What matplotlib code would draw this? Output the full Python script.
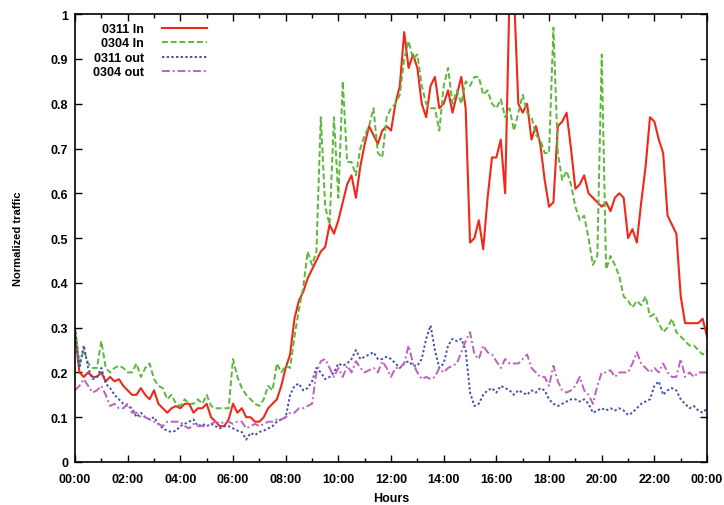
import numpy as np
import matplotlib
matplotlib.use("Agg")
import matplotlib.pyplot as plt
from matplotlib.ticker import MultipleLocator, FuncFormatter

# samples every 10 minutes, 00:00 .. 24:00
in_0311 = [
    0.29, 0.20, 0.19, 0.20, 0.19, 0.19,
    0.20, 0.18, 0.19, 0.18, 0.185, 0.17,
    0.16, 0.15, 0.15, 0.165, 0.15, 0.14,
    0.16, 0.13, 0.12, 0.11, 0.12, 0.125,
    0.12, 0.13, 0.13, 0.11, 0.12, 0.12,
    0.13, 0.10, 0.09, 0.08, 0.08, 0.095,
    0.13, 0.11, 0.12, 0.10, 0.10, 0.09,
    0.09, 0.10, 0.12, 0.13, 0.14, 0.17,
    0.21, 0.24, 0.32, 0.36, 0.38, 0.41,
    0.43, 0.45, 0.47, 0.48, 0.53, 0.51,
    0.54, 0.58, 0.62, 0.64, 0.59, 0.66,
    0.71, 0.75, 0.73, 0.71, 0.74, 0.75,
    0.74, 0.80, 0.84, 0.96, 0.88, 0.91,
    0.88, 0.80, 0.77, 0.84, 0.86, 0.79,
    0.80, 0.83, 0.78, 0.82, 0.86, 0.79,
    0.49, 0.50, 0.54, 0.475, 0.59, 0.68,
    0.68, 0.72, 0.60, 1.05, 1.05, 0.80,
    0.78, 0.80, 0.72, 0.75, 0.71, 0.63,
    0.57, 0.58, 0.75, 0.76, 0.78, 0.70,
    0.61, 0.62, 0.64, 0.60, 0.59, 0.58,
    0.57, 0.58, 0.56, 0.59, 0.60, 0.59,
    0.50, 0.52, 0.49, 0.58, 0.66, 0.77,
    0.76, 0.72, 0.69, 0.55, 0.53, 0.51,
    0.37, 0.31, 0.31, 0.31, 0.31, 0.32,
    0.28,
]
in_0304 = [
    0.30, 0.22, 0.25, 0.22, 0.21, 0.21,
    0.27, 0.21, 0.20, 0.21, 0.215, 0.21,
    0.20, 0.20, 0.22, 0.19, 0.21, 0.22,
    0.185, 0.17, 0.165, 0.14, 0.15, 0.13,
    0.125, 0.14, 0.13, 0.13, 0.14, 0.13,
    0.15, 0.125, 0.12, 0.12, 0.12, 0.12,
    0.23, 0.19, 0.165, 0.15, 0.14, 0.13,
    0.125, 0.14, 0.17, 0.16, 0.22, 0.20,
    0.215, 0.21, 0.28, 0.34, 0.39, 0.47,
    0.44, 0.47, 0.77, 0.57, 0.53, 0.77,
    0.59, 0.85, 0.67, 0.67, 0.64, 0.70,
    0.73, 0.75, 0.79, 0.69, 0.68, 0.77,
    0.79, 0.80, 0.82, 0.90, 0.94, 0.90,
    0.91, 0.84, 0.80, 0.79, 0.79, 0.74,
    0.84, 0.88, 0.80, 0.83, 0.80, 0.85,
    0.84, 0.86, 0.86, 0.82, 0.83, 0.80,
    0.79, 0.81, 0.77, 0.79, 0.74, 0.78,
    0.82, 0.78, 0.77, 0.73, 0.72, 0.69,
    0.69, 0.97, 0.69, 0.63, 0.65, 0.62,
    0.57, 0.54, 0.55, 0.50, 0.44, 0.46,
    0.91, 0.43, 0.46, 0.44, 0.415, 0.37,
    0.36, 0.345, 0.36, 0.35, 0.37, 0.325,
    0.33, 0.31, 0.29, 0.30, 0.32, 0.29,
    0.28, 0.27, 0.26, 0.26, 0.25, 0.24,
    0.25,
]
out_0311 = [
    0.30, 0.21, 0.26, 0.21, 0.185, 0.19,
    0.21, 0.175, 0.165, 0.15, 0.14, 0.13,
    0.125, 0.12, 0.10, 0.11, 0.10, 0.095,
    0.10, 0.085, 0.075, 0.07, 0.067, 0.07,
    0.08, 0.085, 0.09, 0.095, 0.08, 0.085,
    0.08, 0.085, 0.08, 0.075, 0.08, 0.08,
    0.075, 0.07, 0.067, 0.05, 0.065, 0.06,
    0.067, 0.07, 0.075, 0.08, 0.09, 0.095,
    0.10, 0.15, 0.17, 0.175, 0.16, 0.165,
    0.18, 0.21, 0.20, 0.185, 0.19, 0.20,
    0.22, 0.215, 0.22, 0.23, 0.25, 0.23,
    0.235, 0.24, 0.245, 0.23, 0.23, 0.235,
    0.23, 0.22, 0.21, 0.22, 0.225, 0.215,
    0.215, 0.23, 0.275, 0.305, 0.25, 0.21,
    0.22, 0.26, 0.275, 0.27, 0.275, 0.25,
    0.155, 0.125, 0.13, 0.15, 0.16, 0.165,
    0.155, 0.17, 0.165, 0.16, 0.15, 0.16,
    0.155, 0.15, 0.16, 0.155, 0.165, 0.16,
    0.14, 0.13, 0.125, 0.13, 0.135, 0.14,
    0.14, 0.135, 0.14, 0.13, 0.11, 0.115,
    0.12, 0.115, 0.12, 0.115, 0.12, 0.115,
    0.105, 0.11, 0.12, 0.13, 0.135, 0.14,
    0.17, 0.18, 0.15, 0.16, 0.165, 0.16,
    0.14, 0.13, 0.12, 0.125, 0.115, 0.11,
    0.12,
]
out_0304 = [
    0.16, 0.17, 0.185, 0.17, 0.155, 0.16,
    0.17, 0.15, 0.125, 0.13, 0.12, 0.12,
    0.13, 0.11, 0.11, 0.10, 0.10, 0.095,
    0.09, 0.085, 0.08, 0.09, 0.09, 0.09,
    0.09, 0.08, 0.075, 0.085, 0.08, 0.08,
    0.08, 0.085, 0.09, 0.085, 0.09, 0.09,
    0.085, 0.09, 0.09, 0.075, 0.08, 0.085,
    0.08, 0.085, 0.09, 0.09, 0.095, 0.095,
    0.10, 0.11, 0.11, 0.12, 0.12, 0.125,
    0.13, 0.20, 0.225, 0.23, 0.21, 0.19,
    0.21, 0.19, 0.215, 0.20, 0.225, 0.21,
    0.20, 0.205, 0.21, 0.20, 0.225, 0.21,
    0.19, 0.21, 0.21, 0.22, 0.26, 0.22,
    0.20, 0.185, 0.19, 0.185, 0.19, 0.21,
    0.20, 0.21, 0.215, 0.22, 0.245, 0.27,
    0.29, 0.24, 0.23, 0.26, 0.245, 0.24,
    0.225, 0.21, 0.23, 0.22, 0.22, 0.22,
    0.23, 0.24, 0.21, 0.20, 0.19, 0.19,
    0.17, 0.215, 0.18, 0.16, 0.155, 0.16,
    0.17, 0.19, 0.16, 0.15, 0.13, 0.17,
    0.20, 0.20, 0.205, 0.19, 0.20, 0.20,
    0.20, 0.22, 0.245, 0.22, 0.21, 0.20,
    0.21, 0.20, 0.22, 0.20, 0.19, 0.19,
    0.23, 0.19, 0.20, 0.19, 0.20, 0.20,
    0.20,
]
hours = np.arange(len(in_0311)) / 6.0

plt.rcParams['font.family'] = ['Liberation Sans', 'DejaVu Sans']
plt.rcParams['font.weight'] = 'bold'

fig = plt.figure(figsize=(7.24, 5.06), dpi=100)
ax = fig.add_axes([0.1036, 0.085, 0.873, 0.885])

ax.plot(hours, in_0311, color='#f02818', lw=1.5, label='0311 In')
ax.plot(hours, in_0304, color='#5cb83c', lw=1.4, ls=(0, (3, 1.5)), label='0304 In')
ax.plot(hours, out_0311, color='#4450b4', lw=1.4, ls=(0, (1.2, 1.2)), label='0311 out')
ax.plot(hours, out_0304, color='#c060c0', lw=1.4, ls=(0, (4, 1.5, 1, 1.5)), label='0304 out')

ax.set_xlim(0, 24)
ax.set_ylim(0, 1)
ax.xaxis.set_major_locator(MultipleLocator(2))
ax.xaxis.set_minor_locator(MultipleLocator(1))
ax.xaxis.set_major_formatter(FuncFormatter(lambda v, p: '%02d:00' % (int(round(v)) % 24)))
ax.yaxis.set_major_locator(MultipleLocator(0.1))
ax.yaxis.set_major_formatter(FuncFormatter(lambda v, p: '%g' % round(v, 1)))
ax.tick_params(which='both', direction='in', top=True, right=True, labelsize=9, width=1)
ax.tick_params(which='major', length=5)
ax.tick_params(axis='x', which='major', pad=8)
ax.tick_params(axis='y', which='major', pad=5)
ax.tick_params(which='minor', length=3)
for s in ax.spines.values():
    s.set_linewidth(1.2)

ax.set_xlabel('Hours', fontsize=9, fontweight='bold', labelpad=5)
ax.set_ylabel('Normalized traffic', fontsize=8, fontweight='bold', labelpad=20)

ax.legend(loc='upper left', bbox_to_anchor=(0.015, 1.0), frameon=False, markerfirst=False,
          fontsize=9, handlelength=3.6, handletextpad=1.4, labelspacing=0.2,
          borderaxespad=0.3)

fig.savefig('out.png', dpi=100)
